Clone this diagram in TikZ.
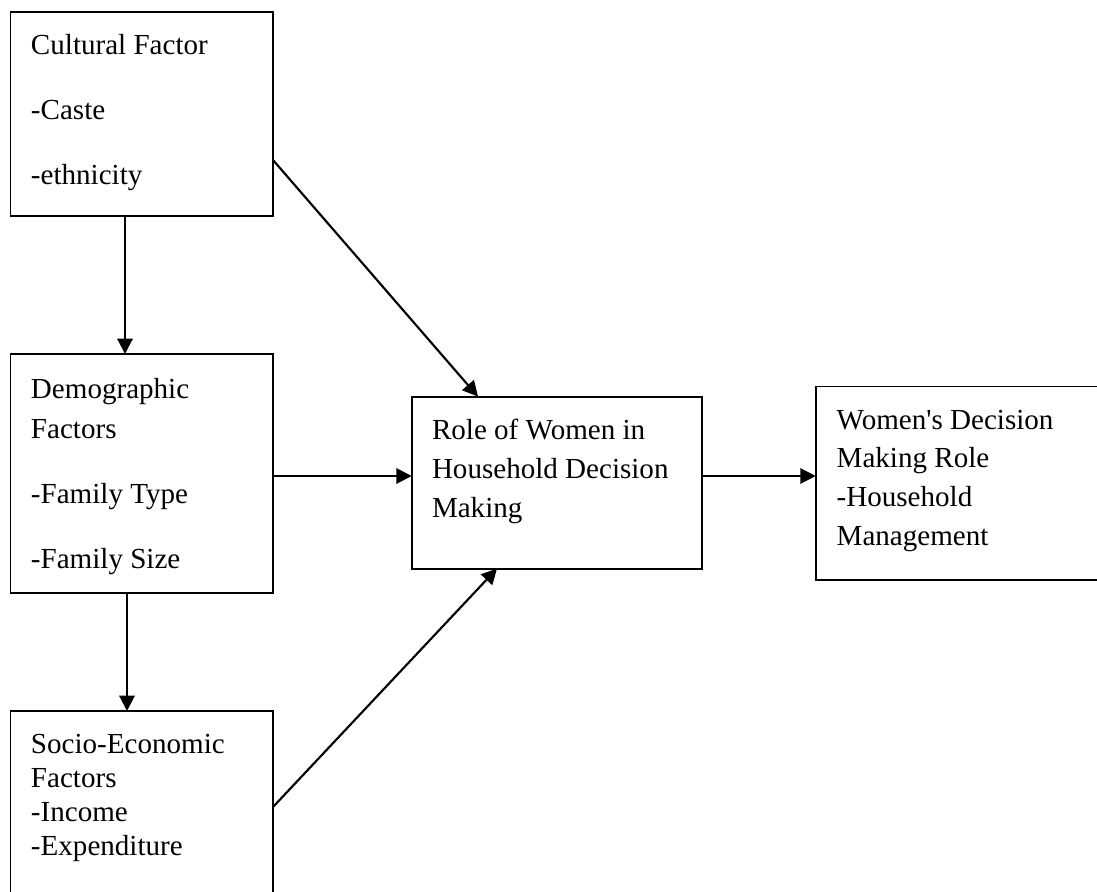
\documentclass[tikz,border=0pt]{standalone}
\usepackage{fontspec}
\setmainfont{Liberation Serif}
\usetikzlibrary{arrows.meta}
\tikzset{
  box/.style={draw, line width=1.4pt, rectangle, inner sep=0pt, outer sep=0pt},
  txt/.style={anchor=base west, align=left, inner sep=0pt, outer sep=0pt},
  arr/.style={line width=1.6pt, -{Triangle[length=11.5pt,width=11.5pt]}},
}
\begin{document}
\begin{tikzpicture}[x=0.75pt,y=-0.75pt]
\clip (0,0) rectangle (1097,892);
\fill[white] (0,0) rectangle (1097,892);
% boxes
\node[box, minimum width=262.5*0.75pt, minimum height=204*0.75pt] (cult) at (141.75,114) {};
\node[box, minimum width=262.5*0.75pt, minimum height=239*0.75pt] (demo) at (141.75,473.5) {};
\node[box, minimum width=262.5*0.75pt, minimum height=194*0.75pt] (socio) at (141.75,808) {};
\node[box, minimum width=290*0.75pt, minimum height=172*0.75pt] (role) at (556.7,482.6) {};
\node[box, minimum width=286.3*0.75pt, minimum height=193.5*0.75pt] (women) at (958.85,483.25) {};
% texts (anchored at the baseline of the last line)
\node[txt, font=\fontsize{21.8}{48.75}\selectfont] (tcult) at (31,185) {Cultural Factor\\-Caste\\-ethnicity};
\node[txt, font=\fontsize{21.8}{30}\selectfont] (tdemo) at (31,568) {Demographic\\Factors\\[18.75pt]-Family Type\\[18.75pt]-Family Size};
\node[txt, font=\fontsize{21.8}{25.3}\selectfont] (tsocio) at (31,855) {Socio-Economic\\Factors\\-Income\\-Expenditure};
\node[txt, font=\fontsize{21.8}{28.9}\selectfont] (trole) at (432,517) {Role of Women in\\Household Decision\\Making};
\node[txt, font=\fontsize{21.8}{28.9}\selectfont] (twomen) at (836.7,545) {Women\textquotesingle s Decision\\Making Role\\-Household\\Management};
% helper coordinates
\coordinate (xa) at (125,0);
\coordinate (xb) at (127,0);
\coordinate (ya) at (0,160);
\coordinate (xc) at (478,0);
\coordinate (yb) at (0,476);
\coordinate (yc) at (0,807);
\coordinate (xd) at (497,0);
% connectors
\draw[arr] (cult.south -| xa) -- (demo.north -| xa);
\draw[arr] (demo.south -| xb) -- (socio.north -| xb);
\draw[arr] (cult.east |- ya) -- (role.north -| xc);
\draw[arr] (demo.east |- yb) -- (role.west |- yb);
\draw[arr] (socio.east |- yc) -- (role.south -| xd);
\draw[arr] (role.east |- yb) -- (women.west |- yb);
\end{tikzpicture}
\end{document}
